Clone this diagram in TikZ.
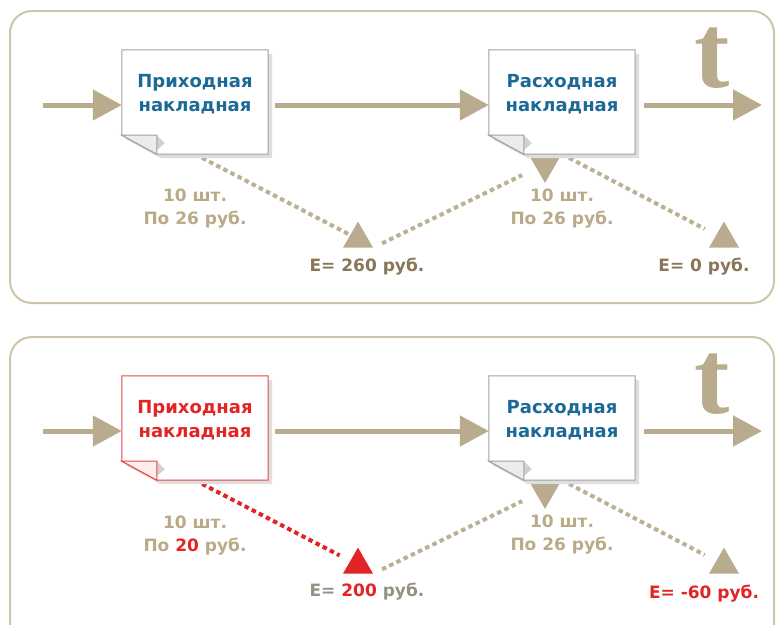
\documentclass[tikz,border=0pt]{standalone}
\usepackage{fontspec}
\newfontfamily\docfont{DejaVu Sans}
\newfontfamily\timefont{Liberation Serif}
\usetikzlibrary{arrows.meta,positioning,shapes.geometric}

\definecolor{arrtan}{RGB}{184,171,142}
\definecolor{dottan}{RGB}{186,176,148}
\definecolor{paneltan}{RGB}{206,196,172}
\definecolor{lbltan}{RGB}{186,170,136}
\definecolor{edark}{RGB}{138,118,88}
\definecolor{egray}{RGB}{150,145,130}
\definecolor{docblue}{RGB}{28,104,150}
\definecolor{docedge}{RGB}{160,160,160}
\definecolor{ered}{RGB}{226,36,36}
\definecolor{docred}{RGB}{232,70,70}
\definecolor{foldgray}{RGB}{236,236,236}
\definecolor{foldpink}{RGB}{255,236,236}

\begin{document}
\begin{tikzpicture}[x=1pt,y=-1pt,
  docbox/.style={rectangle,minimum width=146pt,minimum height=104pt,inner sep=0pt},
  doctxt/.style={align=center,inner sep=0pt,font=\docfont\bfseries\fontsize{18}{24}\selectfont,text=docblue},
  lbl/.style={align=center,inner sep=0pt,font=\docfont\bfseries\fontsize{17}{23}\selectfont,text=lbltan},
  tlbl/.style={inner sep=0pt,font=\timefont\bfseries\fontsize{106}{106}\selectfont,text=arrtan},
  tri/.style={regular polygon,regular polygon sides=3,inner sep=0pt,minimum size=34pt},
  flow/.style={line width=5pt,draw=arrtan,-{Triangle[length=29pt,width=30pt]}},
  dotline/.style={line width=4pt,draw=dottan,dash pattern=on 4.5pt off 3.5pt},
  panel/.style={draw=paneltan,line width=2pt,rounded corners=22pt}
]
\useasboundingbox (0,0) rectangle (776,624);
\clip (0,0) rectangle (776,624);

% panels
\draw[panel] (10,11) rectangle (774,303);
\draw[panel] (10,337) rectangle (774,660);

% documents and balance points
\node[docbox] (d1) at (195,102) {};
\node[docbox] (d2) at (562,102) {};
\node[docbox] (d3) at (195,428) {};
\node[docbox] (d4) at (562,428) {};
\node[tri] (e1) at (358,239) {};
\node[tri] (e2) at (724,239) {};
\node[tri,minimum size=37pt,shape border rotate=180] (r1) at (545,164) {};
\node[tri] (e3) at (358,565) {};
\node[tri] (e4) at (724,565) {};
\node[tri,minimum size=37pt,shape border rotate=180] (r2) at (545,490) {};

% Top: stock flow
\draw[dotline] (d1.south) -- (e1);
\draw[dotline,shorten <=10pt,shorten >=16pt] (e1.corner 3) -- (r1);
\draw[dotline,shorten >=13pt] (d2.south) -- (e2);

% Bottom: wrong price in the receipt
\draw[dotline,draw=ered,shorten >=12pt] (d3.south) -- (e3);
\draw[dotline,shorten <=10pt,shorten >=16pt] (e3.corner 3) -- (r2);
\draw[dotline,shorten >=13pt] (d4.south) -- (e4);

\fill[arrtan] (e1.corner 1) -- (e1.corner 2) -- (e1.corner 3) -- cycle;
\fill[arrtan] (e2.corner 1) -- (e2.corner 2) -- (e2.corner 3) -- cycle;
\fill[arrtan] (r1.corner 1) -- (r1.corner 2) -- (r1.corner 3) -- cycle;
\fill[ered] (e3.corner 1) -- (e3.corner 2) -- (e3.corner 3) -- cycle;
\fill[arrtan] (e4.corner 1) -- (e4.corner 2) -- (e4.corner 3) -- cycle;
\fill[arrtan] (r2.corner 1) -- (r2.corner 2) -- (r2.corner 3) -- cycle;

% sheets with a folded corner
\foreach \n/\ec/\fc in {d1/docedge/foldgray,d2/docedge/foldgray,d3/docred/foldpink,d4/docedge/foldgray}{
  \fill[black!13] ([xshift=4pt,yshift=-4pt]\n.north west) -- ([xshift=4pt,yshift=-4pt]\n.north east)
    -- ([xshift=4pt,yshift=-4pt]\n.south east) -- ([xshift=39pt,yshift=-4pt]\n.south west)
    -- ([xshift=4pt,yshift=15pt]\n.south west) -- cycle;
  \filldraw[fill=white,draw=\ec,line width=1pt] (\n.north west) -- (\n.north east) -- (\n.south east)
    -- ([xshift=35pt]\n.south west) -- ([yshift=19pt]\n.south west) -- cycle;
  \fill[black!18] ([xshift=35pt,yshift=19pt]\n.south west) -- ([xshift=43pt,yshift=11pt]\n.south west)
    -- ([xshift=35pt,yshift=4pt]\n.south west) -- cycle;
  \filldraw[fill=\fc,draw=\ec,line width=1pt] ([yshift=19pt]\n.south west)
    -- ([xshift=35pt,yshift=19pt]\n.south west) -- ([xshift=35pt]\n.south west) -- cycle;
}

\node[doctxt] (d1t) at ([yshift=8pt]d1.center) {Приходная\\накладная};
\node[doctxt] (d2t) at ([yshift=8pt]d2.center) {Расходная\\накладная};
\node[doctxt,text=ered] (d3t) at ([yshift=8pt]d3.center) {Приходная\\накладная};
\node[doctxt] (d4t) at ([yshift=8pt]d4.center) {Расходная\\накладная};

% time axis
\coordinate (in1) at (43,105);
\coordinate (out1) at (762,105);
\draw[flow] (in1) -- (in1 -| d1.west);
\draw[flow,shorten <=7pt] (in1 -| d1.east) -- (in1 -| d2.west);
\draw[flow,shorten <=9pt] (in1 -| d2.east) -- (out1);
\node[tlbl] (t1) at (712,58) {t};

\coordinate (in2) at (43,431);
\coordinate (out2) at (762,431);
\draw[flow] (in2) -- (in2 -| d3.west);
\draw[flow,shorten <=7pt] (in2 -| d3.east) -- (in2 -| d4.west);
\draw[flow,shorten <=9pt] (in2 -| d4.east) -- (out2);
\node[tlbl] (t2) at (712,384) {t};

% amounts
\node[lbl] (q1) at (195,209) {10 шт.\\По 26 руб.};
\node[lbl] (q2) at (562,209) {10 шт.\\По 26 руб.};
\node[lbl,text=edark] (v1) at (367,267) {E= 260 руб.};
\node[lbl,text=edark] (v2) at (704,267) {E= 0 руб.};

\node[lbl] (q3) at (195,536) {10 шт.\\По {\color{ered}20} руб.};
\node[lbl] (q4) at (562,535) {10 шт.\\По 26 руб.};
\node[lbl,text=egray] (v3) at (367,592) {E= {\color{ered}200} руб.};
\node[lbl,text=ered] (v4) at (704,594) {E= -60 руб.};
\end{tikzpicture}
\end{document}
